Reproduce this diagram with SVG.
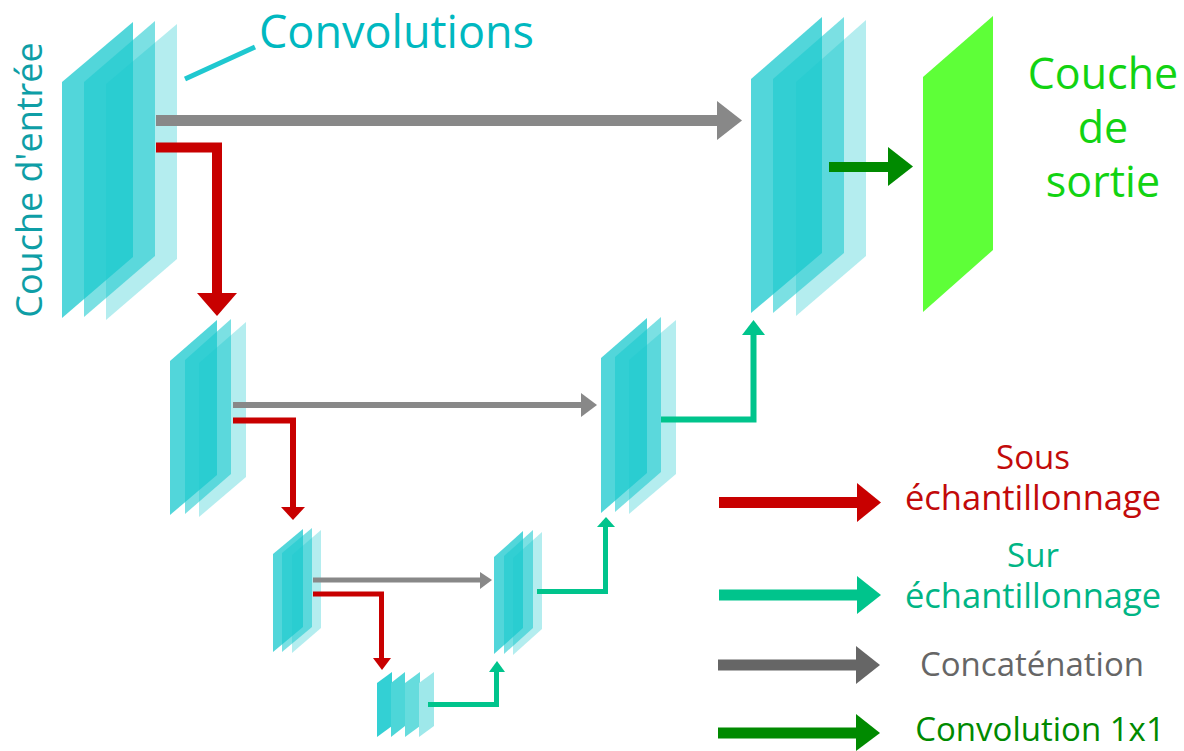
<svg xmlns="http://www.w3.org/2000/svg" width="1184" height="751" viewBox="0 0 1184 751">
<style>
.p1{fill:#1cc9cf;fill-opacity:.76}
.p2{fill:#1cc9cf;fill-opacity:.58}
.p3{fill:#1cc9cf;fill-opacity:.33}
.out{fill:#5eff38}
.t{font-family:"Open Sans","Liberation Sans",sans-serif}
.red{stroke:#c80000;fill:none;stroke-linejoin:miter}
.redh{fill:#c80000}
.teal{stroke:#00c48c;fill:none}
.tealh{fill:#00c48c}
.gray{stroke:#888888;fill:none}
.grayh{fill:#888888}
.lgray{stroke:#666666;fill:none}
.lgrayh{fill:#666666}
.dg{stroke:#008a00;fill:none}
.dgh{fill:#008a00}
</style>
<rect width="1184" height="751" fill="#ffffff"/>

<g id="input-layer">
<polygon class="p1" points="62,82 133,22 133,257 62,318"/>
<polygon class="p2" points="84,82 155,21 155,256 84,317"/>
<polygon class="p3" points="106,84 177,24 177,259 106,320"/>
</g>
<g id="label-input">
<text class="t" transform="translate(42,180) rotate(-90)" text-anchor="middle" font-size="36" fill="#0e9ea6">Couche d'entrée</text>
</g>
<g id="label-convolutions">
<line x1="185" y1="79" x2="255" y2="47" stroke="#1fc8d0" stroke-width="5"/>
<text class="t" x="259" y="48" font-size="45" fill="#00b8c0">Convolutions</text>
</g>

<g id="dec-top">
<polygon class="p1" points="751,79 822,17 822,253 751,313"/>
<polygon class="p2" points="773,79 844,17 844,253 773,313"/>
<polygon class="p3" points="796,82 866,20 866,256 796,316"/>
</g>
<g id="output-layer">
<polygon class="out" points="923,77 993,16 993,250 923,312"/>
<text class="t" font-size="43" fill="#12d312" text-anchor="middle"><tspan x="1103" y="89">Couche</tspan><tspan x="1103" y="143">de</tspan><tspan x="1103" y="197">sortie</tspan></text>
</g>

<g id="enc-2">
<polygon class="p1" points="170,361 217,320 217,475 170,515"/>
<polygon class="p2" points="185,360 231,319 231,474 185,514"/>
<polygon class="p3" points="199,363 246,322 246,477 199,517"/>
</g>
<g id="dec-2">
<polygon class="p1" points="601,358 647,318 647,473 601,513"/>
<polygon class="p2" points="615,357 661,317 661,472 615,512"/>
<polygon class="p3" points="629,360 676,320 676,474 629,514"/>
</g>
<g id="enc-3">
<polygon class="p1" points="273,554 303,529 303,627 273,652"/>
<polygon class="p2" points="282,553 312,528 312,627 282,652"/>
<polygon class="p3" points="292,555 321,530 321,628 292,653"/>
</g>
<g id="dec-3">
<polygon class="p1" points="494,557 523,531 523,628 494,654"/>
<polygon class="p2" points="504,556 533,530 533,628 504,654"/>
<polygon class="p3" points="513,558 542,532 542,629 513,655"/>
</g>
<g id="bottleneck">
<polygon fill="#33d0d4" points="377,683 392,672 392,726 377,737"/>
<polygon fill="#4dd6d8" points="391,683 405,672 405,726 391,737"/>
<polygon fill="#66dcdd" points="405,683 420,672 420,726 405,737"/>
<polygon fill="#9ee8ea" points="419,683 434,672 434,726 419,737"/>
</g>

<g id="connectors">
<line class="gray" x1="156" y1="120.5" x2="718" y2="120.5" stroke-width="11"/>
<polygon class="grayh" points="717,101 742,120.5 717,140"/>
<polyline class="red" points="156,147.5 217,147.5 217,294" stroke-width="10"/>
<polygon class="redh" points="197,293 237,293 217,316"/>

<line class="gray" x1="233" y1="405" x2="582" y2="405" stroke-width="6"/>
<polygon class="grayh" points="581,393 597,405 581,417"/>
<polyline class="red" points="233,420.5 293,420.5 293,508" stroke-width="6"/>
<polygon class="redh" points="281,507 305,507 293,520"/>
<polyline class="teal" points="661,419.5 753.5,419.5 753.5,334" stroke-width="6"/>
<polygon class="tealh" points="742,335 765,335 753.5,320"/>

<line class="gray" x1="313" y1="580" x2="481" y2="580" stroke-width="5"/>
<polygon class="grayh" points="480,572 492,580 480,589"/>
<polyline class="red" points="313,594 381.5,594 381.5,659" stroke-width="5"/>
<polygon class="redh" points="373,658 391,658 382,670"/>
<polyline class="teal" points="537,591.5 605.5,591.5 605.5,526" stroke-width="5"/>
<polygon class="tealh" points="597,527 615,527 606,517"/>
<polyline class="teal" points="428,704.5 496.5,704.5 496.5,671" stroke-width="5"/>
<polygon class="tealh" points="489,672 505,672 497,661"/>

<line class="dg" x1="829" y1="167" x2="889" y2="167" stroke-width="10"/>
<polygon class="dgh" points="888,147 913,166.5 888,186"/>
</g>

<g id="legend">
<line class="red" x1="719" y1="502.5" x2="858" y2="502.5" stroke-width="11"/>
<polygon class="redh" points="857,483 881,502.5 857,522"/>
<text class="t" font-size="33" fill="#c20a0a" text-anchor="middle"><tspan x="1033" y="469">Sous</tspan><tspan x="1033" y="510" font-size="34.5">échantillonnage</tspan></text>

<line class="teal" x1="719" y1="595" x2="858" y2="595" stroke-width="11"/>
<polygon class="tealh" points="857,576 881,595 857,614"/>
<text class="t" font-size="33" fill="#00b585" text-anchor="middle"><tspan x="1033" y="567">Sur</tspan><tspan x="1033" y="608" font-size="34.5">échantillonnage</tspan></text>

<line class="lgray" x1="718" y1="665" x2="857" y2="665" stroke-width="11"/>
<polygon class="lgrayh" points="856,646 880,665 856,684"/>
<text class="t" x="1032" y="676" font-size="33" fill="#666666" text-anchor="middle">Concaténation</text>

<line class="dg" x1="718" y1="733" x2="857" y2="733" stroke-width="11"/>
<polygon class="dgh" points="856,714 880,733 856,751"/>
<text class="t" x="1040" y="741" font-size="33" fill="#008a00" text-anchor="middle">Convolution 1x1</text>
</g>
</svg>
